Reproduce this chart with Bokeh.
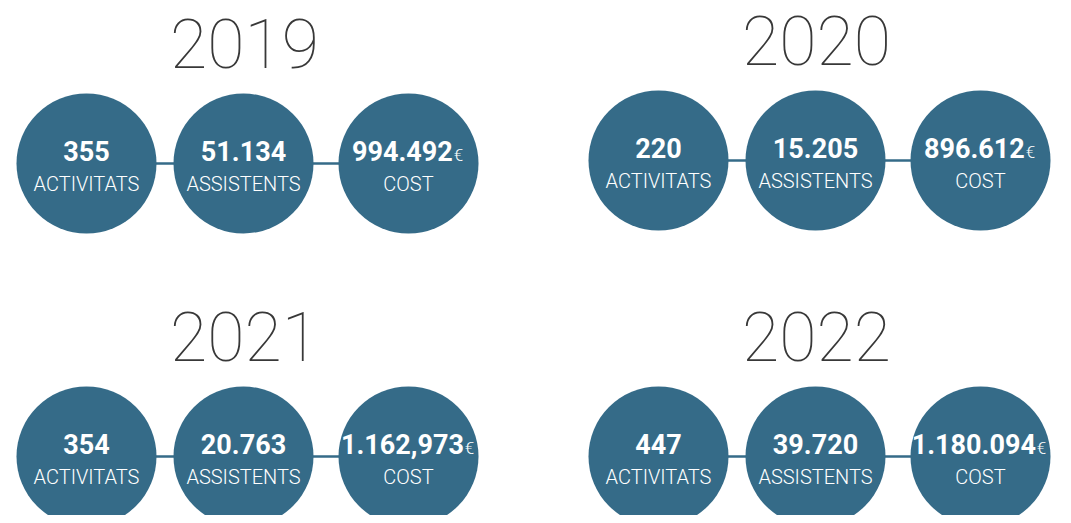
from bokeh.plotting import figure
from bokeh.models import Range1d
from bokeh.core.properties import value
from bokeh.embed import file_html
from bokeh.resources import INLINE

# ---- data ----
years = ["2019", "2020", "2021", "2022"]
activitats = ["355", "220", "354", "447"]
assistents = ["51.134", "15.205", "20.763", "39.720"]
cost = ["994.492", "896.612", "1.162,973", "1.180.094"]
labels = ["ACTIVITATS", "ASSISTENTS", "COST"]
currency = "€"

# ---- layout (pixel space) ----
W, H = 1063, 515
group_x = [243, 815, 243, 815]
group_y = [163, 160, 456, 456]
offsets = [-157, 0, 165]
R = 70
BLUE = "#356b88"
YEAR_FONT = "Roboto Thin, Roboto Light, Roboto, sans-serif"
NUM_FONT = "Roboto, sans-serif"
LAB_FONT = "Roboto Light, Roboto, sans-serif"
YEAR_FS = 68
NUM_FS = 27
LAB_FS = 20
EUR_FS = 17
SHIFT = 0.4  # baseline compensation (fraction of font size)

p = figure(width=W, height=H, output_backend="svg", toolbar_location=None,
           x_range=Range1d(0, W), y_range=Range1d(H, 0),
           min_border=0, outline_line_color=None)
p.axis.visible = False
p.grid.visible = False
p.background_fill_color = "white"
p.border_fill_color = "white"

cx, cy = [], []
sx0, sx1, sy = [], [], []
for gx, gy in zip(group_x, group_y):
    xs = [gx + o for o in offsets]
    cx += xs
    cy += [gy] * 3
    sx0.append(xs[0]); sx1.append(xs[2]); sy.append(gy)

p.segment(x0=sx0, y0=sy, x1=sx1, y1=sy, line_color=BLUE, line_width=2.5)
p.circle(x=cx, y=cy, radius=R, fill_color=BLUE, line_color=None)

# years
p.text(x=[gx + 1 for gx in group_x],
       y=[gy - 93 - SHIFT * YEAR_FS for gy in group_y], text=years,
       text_font=value(YEAR_FONT), text_font_size=f"{YEAR_FS}px", text_color="#383838",
       text_align="center", text_baseline="alphabetic")

# numbers (activitats, assistents) and labels
nx, ny, nt = [], [], []
lx, ly, lt = [], [], []
for i, (gx, gy) in enumerate(zip(group_x, group_y)):
    nx += [gx + offsets[0], gx + offsets[1]]
    ny += [gy - 2 - SHIFT * NUM_FS] * 2
    nt += [activitats[i], assistents[i]]
    for j in range(3):
        lx.append(gx + offsets[j]); ly.append(gy + 28 - SHIFT * LAB_FS); lt.append(labels[j])

p.text(x=nx, y=ny, text=nt, text_font=value(NUM_FONT), text_font_style="bold",
       text_font_size=f"{NUM_FS}px", text_color="white",
       text_align="center", text_baseline="alphabetic")


def est_width(s, fs):
    w = 0.0
    for ch in s:
        w += 0.26 if ch in ".," else 0.562
    return w * fs

cxs, cys, cts, ex, eys = [], [], [], [], []
for i, (gx, gy) in enumerate(zip(group_x, group_y)):
    c = gx + offsets[2]
    wn = est_width(cost[i], NUM_FS)
    we = 0.56 * EUR_FS
    left = c - (wn + we) / 2
    cxs.append(left + wn); cys.append(gy - 2 - SHIFT * NUM_FS); cts.append(cost[i])
    ex.append(left + wn + 1); eys.append(gy - 2 - SHIFT * EUR_FS)

p.text(x=cxs, y=cys, text=cts, text_font=value(NUM_FONT), text_font_style="bold",
       text_font_size=f"{NUM_FS}px", text_color="white",
       text_align="right", text_baseline="alphabetic")
p.text(x=ex, y=eys, text=[currency] * len(ex), text_font=value(LAB_FONT),
       text_font_size=f"{EUR_FS}px", text_color="white",
       text_align="left", text_baseline="alphabetic")

p.text(x=lx, y=ly, text=lt, text_font=value(LAB_FONT), text_font_size=f"{LAB_FS}px",
       text_color="white", text_align="center", text_baseline="alphabetic")

open("out.html", "w").write(file_html(p, INLINE))
